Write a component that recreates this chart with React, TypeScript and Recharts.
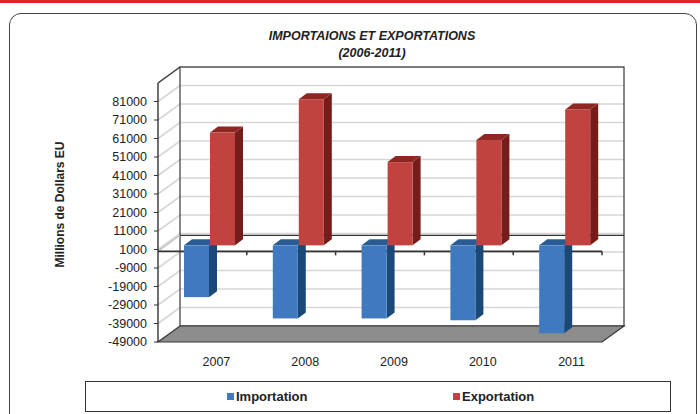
import React from 'react';
import {
  ComposedChart,
  Bar,
  XAxis,
  YAxis,
  CartesianGrid,
  ReferenceArea,
  ReferenceLine,
  Legend,
} from 'recharts';

// ---- data ----
const years = ['2007', '2008', '2009', '2010', '2011'];
const importation = [-28000, -39500, -39500, -40500, -47500];
const exportation = [61000, 79000, 45000, 57000, 73500];
const yTicks = [81000, 71000, 61000, 51000, 41000, 31000, 21000, 11000, 1000, -9000, -19000, -29000, -39000, -49000];
const yDomain: [number, number] = [-49000, 91000];
const titleLines = ['IMPORTAIONS ET EXPORTATIONS', '(2006-2011)'];
const yAxisTitle = 'Millions de Dollars EU';
const seriesNames = ['Importation', 'Exportation'];

const data = years.map((y, i) => ({ year: y, Importation: importation[i], Exportation: exportation[i] }));

// ---- style ----
const FONT = '"Liberation Sans", Arial, Helvetica, sans-serif';
const DEPTH_X = 22;
const DEPTH_Y = -16;
const colors: Record<string, { front: string; side: string; top: string }> = {
  Importation: { front: '#3f79bf', side: '#1a4877', top: '#2a5c94' },
  Exportation: { front: '#c0433f', side: '#761c1a', top: '#8e2623' },
};

const bar3D = (c: { front: string; side: string; top: string }) => (props: any) => {
  const { x, y, width, height } = props;
  if (x == null || y == null) return <g />;
  const top = Math.min(y, y + height);
  const h = Math.abs(height);
  const fx = x + 7;
  const fy = top - 6;
  const bx = 8;
  const by = -6;
  return (
    <g>
      <polygon
        points={`${fx + width},${fy} ${fx + width + bx},${fy + by} ${fx + width + bx},${fy + h + by} ${fx + width},${fy + h}`}
        fill={c.side}
      />
      <polygon
        points={`${fx},${fy} ${fx + bx},${fy + by} ${fx + width + bx},${fy + by} ${fx + width},${fy}`}
        fill={c.top}
      />
      <rect x={fx} y={fy} width={width} height={h} fill={c.front} />
    </g>
  );
};

const gridLine = (p: any) => {
  const { x1, y1, x2 } = p;
  return (
    <path
      key={p.key}
      d={`M${x1},${y1} L${x1 + DEPTH_X},${y1 + DEPTH_Y} L${x2 + DEPTH_X},${y1 + DEPTH_Y}`}
      fill="none"
      stroke="#d6d6d6"
      strokeWidth={1.6}
    />
  );
};

const wallsShape = (p: any) => {
  const { x, y, width, height } = p;
  const b = y + height;
  return (
    <g>
      <rect x={x + DEPTH_X} y={y + DEPTH_Y} width={width} height={height} fill="none" stroke="#3a3a3a" strokeWidth={1.2} />
      <line x1={x} y1={y} x2={x + DEPTH_X} y2={y + DEPTH_Y} stroke="#3a3a3a" strokeWidth={1.2} />
      <polygon
        points={`${x},${b} ${x + width},${b} ${x + width + DEPTH_X},${b + DEPTH_Y} ${x + DEPTH_X},${b + DEPTH_Y}`}
        fill="#8c8c8c"
        stroke="#3a3a3a"
        strokeWidth={1.2}
      />
    </g>
  );
};

const zeroPlane = (p: any) => {
  const { x1, y1, x2 } = p;
  const n = years.length;
  const ticks = [];
  for (let i = 1; i <= n; i++) {
    const tx = x1 + ((x2 - x1) * i) / n;
    ticks.push(<line key={i} x1={tx} y1={y1} x2={tx} y2={y1 + 4} stroke="#333" strokeWidth={1.5} />);
  }
  return (
    <g>
      <line x1={x1} y1={y1} x2={x1 + DEPTH_X} y2={y1 + DEPTH_Y} stroke="#bbb" strokeWidth={1.2} />
      <line x1={x1 + DEPTH_X} y1={y1 + DEPTH_Y} x2={x2 + DEPTH_X} y2={y1 + DEPTH_Y} stroke="#333" strokeWidth={1.3} />
      <line x1={x1} y1={y1} x2={x2} y2={y1} stroke="#333" strokeWidth={1.6} />
      {ticks}
    </g>
  );
};

const renderLegend = (props: any) => {
  const payload = [...(props.payload || [])].sort(
    (a: any, b: any) => seriesNames.indexOf(a.value) - seriesNames.indexOf(b.value)
  );
  const lefts = [141, 367];
  return (
    <div
      style={{
        position: 'relative',
        width: 586,
        height: 31,
        boxSizing: 'border-box',
        border: '1.5px solid #333',
        background: '#fff',
        fontFamily: FONT,
      }}
    >
      {payload.map((e: any, i: number) => (
        <div
          key={e.value}
          style={{
            position: 'absolute',
            left: lefts[i],
            top: 0,
            height: '100%',
            display: 'flex',
            alignItems: 'center',
            fontSize: 13,
            fontWeight: 'bold',
            color: '#222',
          }}
        >
          <span style={{ display: 'inline-block', width: 7, height: 7, background: e.color, marginRight: 2 }} />
          {e.value}
        </div>
      ))}
    </div>
  );
};

const yLabel = (p: any) => {
  const vb = p.viewBox || { x: 98, y: 83, width: 60, height: 259 };
  const cx = vb.x - 38;
  const cy = vb.y + vb.height / 2 - 8;
  return (
    <text
      x={cx}
      y={cy}
      transform={`rotate(-90 ${cx} ${cy})`}
      textAnchor="middle"
      dominantBaseline="central"
      fontSize={12}
      fontWeight="bold"
      fill="#222"
      fontFamily={FONT}
    >
      {yAxisTitle}
    </text>
  );
};

export default function App() {
  return (
    <div
      style={{
        position: 'absolute',
        left: 0,
        top: 0,
        width: 700,
        height: 414,
        overflow: 'hidden',
        background: '#fff',
        fontFamily: FONT,
      }}
    >
      <div style={{ position: 'absolute', left: 0, top: 0, width: 700, height: 3, background: '#e3212a' }} />
      <div
        style={{
          position: 'absolute',
          left: 9,
          top: 13,
          width: 688,
          height: 430,
          border: '1px solid #444',
          borderRadius: 12,
          boxSizing: 'border-box',
        }}
      />
      {titleLines.map((t, i) => (
        <div
          key={t}
          style={{
            position: 'absolute',
            left: 172,
            width: 400,
            top: 28 + i * 16.5,
            height: 17,
            lineHeight: '17px',
            textAlign: 'center',
            fontSize: 12.5,
            fontWeight: 'bold',
            fontStyle: 'italic',
            color: '#222',
          }}
        >
          {t}
        </div>
      ))}
      <div style={{ position: 'absolute', left: 0, top: 0 }}>
        <ComposedChart
          width={700}
          height={414}
          data={data}
          margin={{ top: 83, right: 98, bottom: 11, left: 98 }}
          barSize={25}
          barGap={1}
        >
          <CartesianGrid vertical={false} horizontal={gridLine} />
          <ReferenceArea y1={yDomain[0]} y2={yDomain[1]} shape={wallsShape} ifOverflow="visible" zIndex={-60} />
          <ReferenceLine y={0} shape={zeroPlane} zIndex={-50} />
          <XAxis
            dataKey="year"
            axisLine={false}
            tickLine={false}
            height={30}
            interval={0}
            tick={(p: any) => (
              <text x={p.x + 14} y={p.y} dy={16} textAnchor="middle" fontSize={12.5} fill="#222" fontFamily={FONT}>
                {p.payload.value}
              </text>
            )}
          />
          <YAxis
            width={60}
            domain={yDomain}
            ticks={yTicks}
            interval={0}
            allowDataOverflow
            axisLine={{ stroke: '#333', strokeWidth: 1.4 }}
            tickLine={{ stroke: '#333' }}
            tickSize={4}
            tickMargin={7}
            tick={{ fontSize: 12.5, fill: '#222', fontFamily: FONT }}
            label={{ content: yLabel }}
          />
          <Bar dataKey="Importation" fill={colors.Importation.front} shape={bar3D(colors.Importation)} isAnimationActive={false} />
          <Bar dataKey="Exportation" fill={colors.Exportation.front} shape={bar3D(colors.Exportation)} isAnimationActive={false} />
          <Legend
            verticalAlign="bottom"
            content={renderLegend}
            wrapperStyle={{ left: 85, top: 381, width: 586, height: 31 }}
          />
        </ComposedChart>
      </div>
    </div>
  );
}
